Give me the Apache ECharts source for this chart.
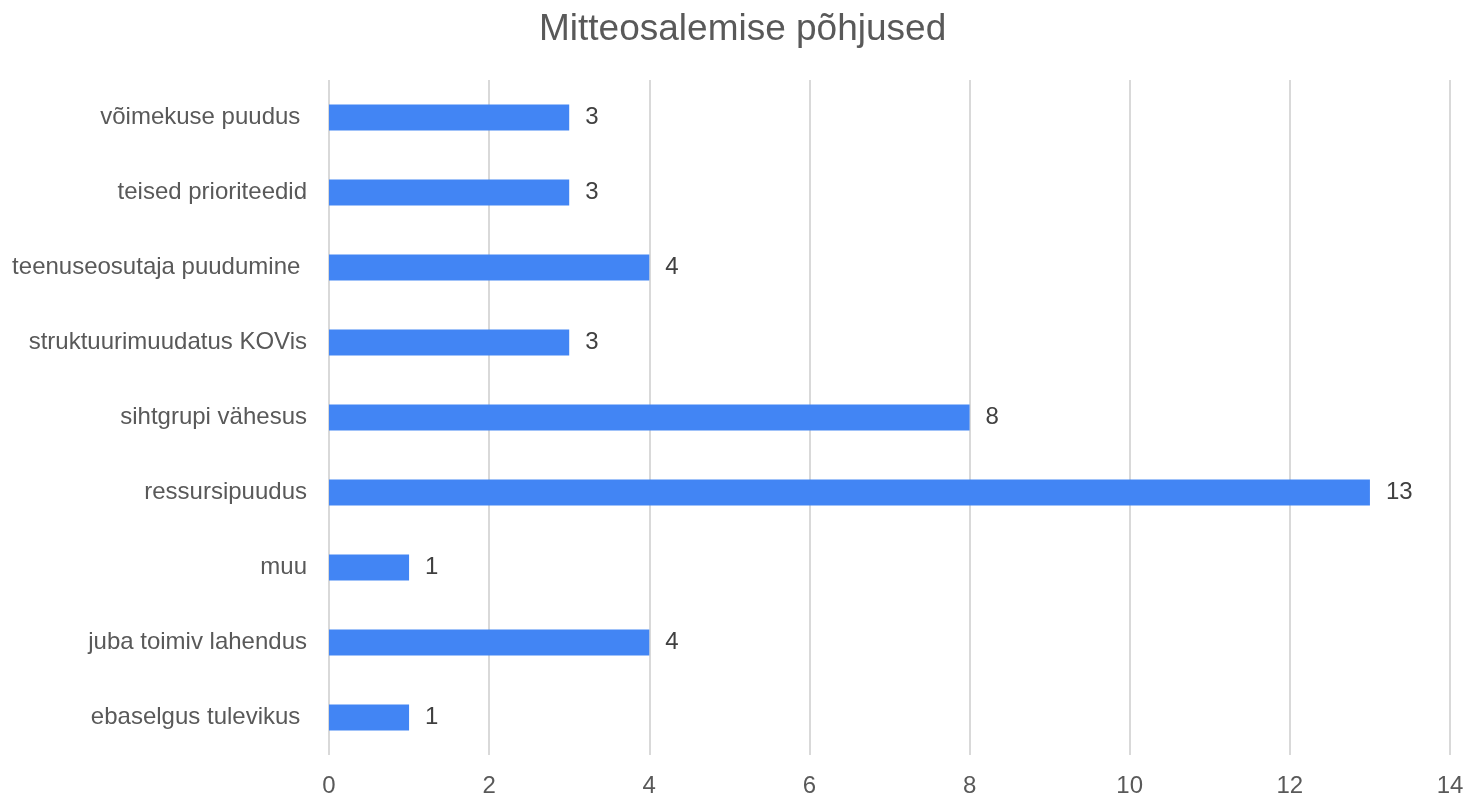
<!DOCTYPE html>
<html>
<head>
<meta charset="utf-8">
<script src="https://cdn.jsdelivr.net/npm/echarts@6/dist/echarts.min.js"></script>
<style>
html,body{margin:0;padding:0;background:#fff;}
#chart{width:1476px;height:798px;}
</style>
</head>
<body>
<div id="chart"></div>
<script>
const categories = [
  "ebaselgus tulevikus ",
  "juba toimiv lahendus",
  "muu",
  "ressursipuudus",
  "sihtgrupi vähesus",
  "struktuurimuudatus KOVis",
  "teenuseosutaja puudumine ",
  "teised prioriteedid",
  "võimekuse puudus "
];
const values = [1, 4, 1, 13, 8, 3, 4, 3, 3];
const titleText = "Mitteosalemise põhjused";

const FF = "'Liberation Sans', Arial, sans-serif";
const chart = echarts.init(document.getElementById('chart'));
chart.setOption({
  animation: false,
  backgroundColor: '#ffffff',
  textStyle: { fontFamily: FF },
  title: {
    text: titleText,
    left: 534,
    top: 6,
    textStyle: { fontFamily: FF, fontSize: 37, fontWeight: 'normal', color: '#595959' }
  },
  grid: { left: 329, right: 26, top: 80, bottom: 40, containLabel: false },
  xAxis: {
    type: 'value',
    min: 0, max: 14, interval: 2,
    axisLine: { show: false },
    axisTick: { show: false },
    splitLine: { show: true, lineStyle: { color: '#d9d9d9', width: 2 } },
    axisLabel: { color: '#595959', fontSize: 24, margin: 19, fontFamily: FF }
  },
  yAxis: {
    type: 'category',
    data: categories,
    axisLine: { show: false },
    axisTick: { show: false },
    splitLine: { show: false },
    axisLabel: { color: '#595959', fontSize: 24, margin: 22, fontFamily: FF }
  },
  series: [{
    type: 'bar',
    data: values,
    barWidth: 26,
    itemStyle: { color: '#4285F4' },
    label: {
      show: true, position: 'right', distance: 16,
      color: '#404040', fontSize: 24, fontFamily: FF
    }
  }]
});
</script>
</body>
</html>
